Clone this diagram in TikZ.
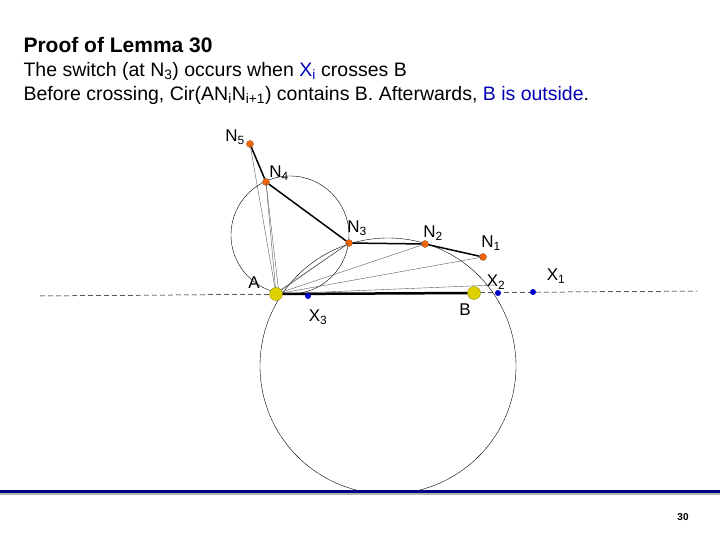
\documentclass[tikz,border=0pt]{standalone}
\usepackage{fontspec}
\setmainfont{Liberation Sans}
\begin{document}
\begin{tikzpicture}[x=1pt,y=-1pt,
  nd/.style={circle,fill=orange!80!red,draw=brown!60!black,line width=0.3pt,inner sep=0pt,minimum size=7pt},
  xd/.style={circle,fill=blue!80!black,inner sep=0pt,minimum size=6pt},
  yd/.style={circle,fill=yellow!70!olive,draw=olive,line width=0.3pt,inner sep=0pt,minimum size=13pt},
  lb/.style={font=\fontsize{17}{17}\selectfont},
  thin1/.style={line width=0.4pt,gray!70!black}]
\useasboundingbox (0,0) rectangle (720,540);
\node[anchor=west,font=\bfseries\fontsize{21}{21}\selectfont] (t) at (20,45) {Proof of Lemma 30};
\node[anchor=west,font=\fontsize{19.5}{19.5}\selectfont] (l1) at (20,71) {The switch (at N\textsubscript{3}) occurs when {\color{blue!70!black}X\textsubscript{i}} crosses B};
\node[anchor=west,font=\fontsize{19.5}{19.5}\selectfont] (l2) at (20,95) {Before crossing, Cir(AN\textsubscript{i}N\textsubscript{i+1}) contains B. Afterwards, {\color{blue!70!black}B is outside}.};
\draw[dash pattern=on 5pt off 3pt,line width=0.5pt] (40,296) -- (697,291);
\draw[line width=0.4pt] (290,235) circle (59);
\draw[line width=0.4pt] (388,366) circle (128);
\coordinate (A) at (276,294);
\coordinate (B) at (474,293);
\node[nd] (N5) at (250,144) {};
\node[nd] (N4) at (266,182) {};
\node[nd] (N3) at (349,243) {};
\node[nd] (N2) at (425,244) {};
\node[nd] (N1) at (483,257) {};
\draw[thin1] (A) -- (N5.center); \draw[thin1] (A) -- (N4.center); \draw[thin1] ([xshift=3]A) -- (N4.center);
\draw[thin1] (A) -- (N3.center); \draw[thin1] ([yshift=1]A) -- (N3.center);
\draw[thin1] (A) -- (N2.center); \draw[thin1] (A) -- (N1.center); \draw[thin1] (A) -- (495,285);
\draw[line width=1.5pt] (N5) -- (N4) -- (N3) -- (N2) -- (N1);
\draw[line width=2.5pt] (A) -- (B);
\node[yd] (Ad) at (A) {};
\node[yd] (Bd) at (B) {};
\node[xd] (X3) at (308,296) {};
\node[xd] (X2) at (498,293) {};
\node[xd] (X1) at (533,292) {};
\node[lb] at (235,137) {N\textsubscript{5}};
\node[lb] at (279,173) {N\textsubscript{4}};
\node[lb] at (357,228) {N\textsubscript{3}};
\node[lb] at (433,233) {N\textsubscript{2}};
\node[lb] at (491,243) {N\textsubscript{1}};
\node[lb] at (254,283) {A};
\node[lb] at (465,310) {B};
\node[lb] at (318,317) {X\textsubscript{3}};
\node[lb] at (496,282) {X\textsubscript{2}};
\node[lb] at (556,276) {X\textsubscript{1}};
\fill[blue!50!black] (0,490) rectangle (720,493);
\fill[gray!60] (0,493) rectangle (720,495);
\node[font=\bfseries\fontsize{10}{10}\selectfont] (pg) at (683,517) {30};
\end{tikzpicture}
\end{document}
